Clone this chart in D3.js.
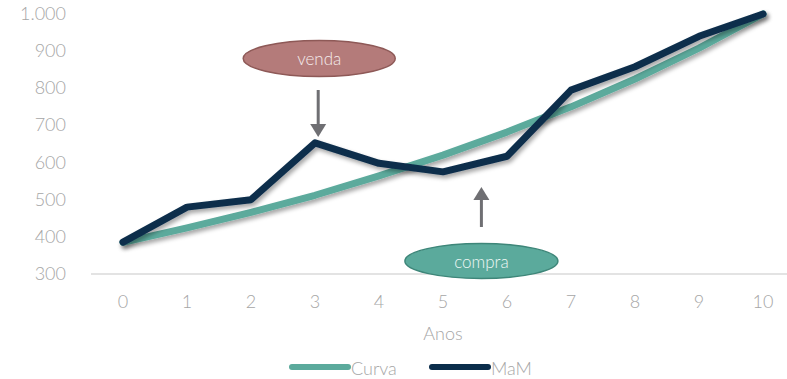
<!DOCTYPE html>
<html><head><meta charset="utf-8">
<script src="https://cdn.jsdelivr.net/npm/d3@7"></script>
<style>
body{margin:0;background:#fff;}
text{font-family:"Lato","Open Sans",sans-serif;font-weight:300;}
</style></head>
<body><svg id="c" width="787" height="379"></svg>
<script>
const years = [0,1,2,3,4,5,6,7,8,9,10];
const curva = [385, 424, 466, 512, 564, 620, 682, 750, 825, 908, 1000];
const mam   = [386, 480, 500, 653, 598, 575, 617, 795, 858, 940, 1000];
const yTicks = [300,400,500,600,700,800,900,1000];
const seriesNames = ["Curva","MaM"];
const colors = ["#5BAA9C","#0B2D4B"];
const annotations = [
  {label:"venda", year:3.05, fill:"#B47B7A", stroke:"#8E5957"},
  {label:"compra", year:5.6, fill:"#5BAA9C", stroke:"#3E8679"}
];

const svg = d3.select("#c");
const x = d3.scaleBand().domain(years).range([91,795]);
const y = d3.scaleLinear().domain([300,1000]).range([274,14]);
const cx = d => x(d) + x.bandwidth()/2;
const cxf = v => cx(0) + (cx(1)-cx(0))*v;
const loc = d3.formatLocale({decimal:",",thousands:".",grouping:[3],currency:["",""]});
const fmt = loc.format(",");

const defs = svg.append("defs");
const f = defs.append("filter").attr("id","sh").attr("x","-10%").attr("y","-20%").attr("width","130%").attr("height","150%");
f.append("feDropShadow").attr("dx",2).attr("dy",3).attr("stdDeviation",2).attr("flood-color","#000").attr("flood-opacity",0.35);

// y axis labels
svg.append("g").selectAll("text").data(yTicks).join("text")
  .attr("x",66).attr("y",d=>y(d)+6).attr("text-anchor","end")
  .attr("font-size",18).attr("fill","#A6A6A6").text(d=>fmt(d));

// x axis
svg.append("line").attr("x1",91).attr("x2",795).attr("y1",y(300)).attr("y2",y(300))
  .attr("stroke","#E3E3E3").attr("stroke-width",2);
svg.append("g").selectAll("text").data(years).join("text")
  .attr("x",d=>cx(d)).attr("y",308).attr("text-anchor","middle")
  .attr("font-size",18).attr("fill","#A6A6A6").text(d=>d);
svg.append("text").attr("x",443).attr("y",340).attr("text-anchor","middle")
  .attr("font-size",18).attr("fill","#A6A6A6").text("Anos");

// lines
const line = d3.line().x((d,i)=>cx(years[i])).y(d=>y(d));
[curva, mam].forEach((s,k)=>{
  svg.append("path").datum(s).attr("d",line).attr("fill","none")
    .attr("stroke",colors[k]).attr("stroke-width",7)
    .attr("stroke-linejoin","round").attr("stroke-linecap","round")
    .attr("filter","url(#sh)");
});

// annotations
function arrow(x0, y0, y1){
  const dir = y1 > y0 ? 1 : -1;
  const headLen = 13;
  svg.append("line").attr("x1",x0).attr("x2",x0).attr("y1",y0).attr("y2",y1 - dir*headLen)
    .attr("stroke","#6F6F73").attr("stroke-width",3);
  svg.append("path").attr("d",`M${x0-8},${y1-dir*headLen} L${x0+8},${y1-dir*headLen} L${x0},${y1} Z`)
    .attr("fill","#6F6F73");
}
const a0 = annotations[0];
const ax0 = cxf(a0.year);
svg.append("ellipse").attr("cx",ax0+1).attr("cy",58.5).attr("rx",76).attr("ry",18)
  .attr("fill",a0.fill).attr("stroke",a0.stroke).attr("stroke-width",1.5);
svg.append("text").attr("x",ax0+1).attr("y",65).attr("text-anchor","middle")
  .attr("font-size",17).attr("fill","#F4ECEC").text(a0.label);
arrow(ax0, 90, 137);

const a1 = annotations[1];
const ax1 = cxf(a1.year);
arrow(ax1, 227, 187);
svg.append("ellipse").attr("cx",ax1).attr("cy",261).attr("rx",76.5).attr("ry",17.5)
  .attr("fill",a1.fill).attr("stroke",a1.stroke).attr("stroke-width",1.5);
svg.append("text").attr("x",ax1).attr("y",268).attr("text-anchor","middle")
  .attr("font-size",17).attr("fill","#EEF7F5").text(a1.label);

// legend
const leg = [{x:292},{x:432}];
seriesNames.forEach((n,k)=>{
  svg.append("line").attr("x1",leg[k].x).attr("x2",leg[k].x+56).attr("y1",367).attr("y2",367)
    .attr("stroke",colors[k]).attr("stroke-width",6).attr("stroke-linecap","round");
  svg.append("text").attr("x",leg[k].x+59).attr("y",375).attr("font-size",18)
    .attr("fill","#A6A6A6").text(n);
});
</script></body></html>
